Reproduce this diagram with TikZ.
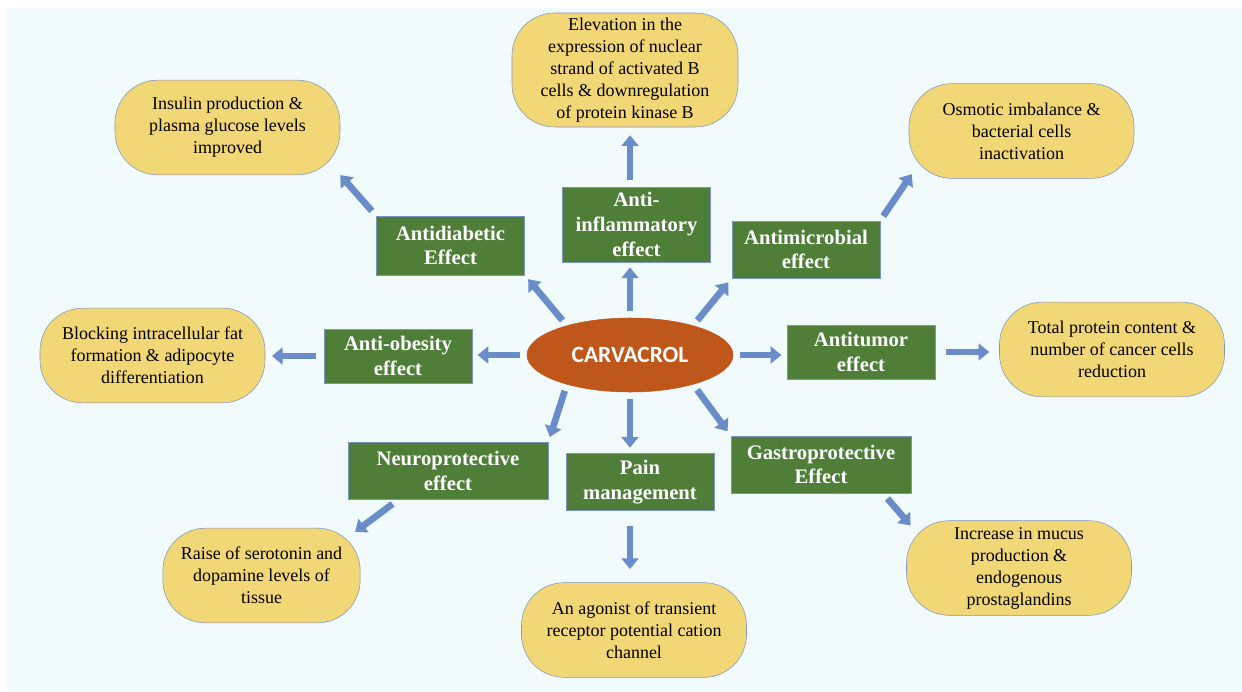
\documentclass[tikz,border=0pt]{standalone}
\usepackage{fontspec}
\setmainfont{Liberation Serif}
\newfontfamily\carlito{Carlito}
\usetikzlibrary{arrows.meta,shapes.geometric}
\definecolor{bgcyan}{HTML}{F1FBFC}
\definecolor{effgreen}{HTML}{4E7E38}
\definecolor{resyellow}{HTML}{F2D776}
\definecolor{edgeblue}{HTML}{7F93C0}
\definecolor{arrowblue}{HTML}{6A8CC8}
\definecolor{carvorange}{HTML}{C0571A}

\tikzset{
  effect/.style={rectangle,draw=edgeblue,fill=effgreen,text=white,align=center,
    font=\fontsize{15.5}{18.5}\selectfont\bfseries,inner sep=2pt,
    minimum width=111pt,minimum height=43pt},
  result/.style={rectangle,rounded corners=32pt,draw=edgeblue,fill=resyellow,align=center,
    font=\fontsize{13.5}{16.5}\selectfont,inner sep=2pt,
    minimum width=168.75pt,minimum height=71pt},
  core/.style={ellipse,draw=carvorange,fill=carvorange,text=white,
    font=\carlito\fontsize{17.5}{20}\selectfont\bfseries,
    minimum width=154.5pt,minimum height=55.5pt},
  arrow/.style={-{Triangle[width=12.5pt,length=8pt]},line width=5pt,draw=arrowblue,
    shorten >=4pt,shorten <=5pt}}

\begin{document}
\begin{tikzpicture}[x=0.75pt,y=-0.75pt]
    \useasboundingbox (0,0) rectangle (1242,692);
    \fill[white] (0,0) rectangle (1242,692);
    \fill[bgcyan] (7,8) rectangle (1242,692);

    \node[core] (carv) at (630,355) {CARVACROL};

    \node[effect,minimum height=56pt] (antiinfl) at (636.5,224.5) {Anti-\\inflammatory\\effect};
    \node[effect,minimum height=44pt] (antidiab) at (450.5,245.5) {Antidiabetic\\Effect};
    \node[effect] (antimicro) at (806,249.5) {Antimicrobial\\effect};
    \node[effect,minimum height=40.5pt] (antiobes) at (398,356) {Anti-obesity\\effect};
    \node[effect,minimum height=40.5pt] (antitumor) at (861,352) {Antitumor\\effect};
    \node[effect,minimum width=150pt] (neuro) at (448,471) {Neuroprotective\\effect};
    \node[effect] (pain) at (640,482) {Pain\\management};
    \node[effect,minimum width=135pt] (gastro) at (821,464.5) {Gastroprotective\\Effect};

    \node[result,minimum height=85.5pt,minimum width=169.5pt] (elev) at (625,70)
      {Elevation in the\\expression of nuclear\\strand of activated B\\cells \& downregulation\\of protein kinase B};
    \node[result] (insulin) at (227.5,127.5) {Insulin production \&\\plasma glucose levels\\improved};
    \node[result] (osmotic) at (1021.5,131) {Osmotic imbalance \&\\bacterial cells\\inactivation};
    \node[result] (blocking) at (152.5,355.5) {Blocking intracellular fat\\formation \& adipocyte\\differentiation};
    \node[result] (total) at (1112,349.5) {Total protein content \&\\number of cancer cells\\reduction};
    \node[result,minimum width=148pt] (raise) at (261.5,575.5) {Raise of serotonin and\\dopamine levels of\\tissue};
    \node[result] (agonist) at (634,630) {An agonist of transient\\receptor potential cation\\channel};
    \node[result] (increase) at (1019,568) {Increase in mucus\\production \&\\endogenous\\prostaglandins};

    \draw[arrow] (carv.north) -- (carv.north |- antiinfl.south);
    \draw[arrow] (carv.155) -- (antidiab.south east);
    \draw[arrow] (carv.25) -- (antimicro.south west);
    \draw[arrow] (carv.west) -- (carv.west -| antiobes.east);
    \draw[arrow] (carv.east) -- (carv.east -| antitumor.west);
    \draw[arrow] (carv.205) -- (neuro.north east);
    \draw[arrow] (carv.south) -- (carv.south |- pain.north);
    \draw[arrow] (carv.335) -- (gastro.north west);

    \draw[arrow,shorten <=5pt,shorten >=6pt] (antiinfl.north -| carv.north) -- (elev.south -| carv.north);
    \draw[arrow,shorten >=0pt] (antidiab.north west) -- (insulin.south east);
    \draw[arrow,shorten <=4pt,shorten >=-4pt] (antimicro.north east) -- (osmotic.south west);
    \draw[arrow,shorten <=6pt,shorten >=5pt] (antiobes.west) -- (antiobes.west -| blocking.east);
    \draw[arrow,shorten <=8pt,shorten >=7.5pt] (antitumor.east) -- (antitumor.east -| total.west);
    \draw[arrow,shorten >=-5pt] (neuro.-150) -- (raise.north east);
    \draw[arrow,shorten <=11pt,shorten >=10pt] (pain.south -| carv.south) -- (agonist.north -| carv.south);
    \draw[arrow,shorten >=-5pt] (gastro.-25) -- (increase.north west);
\end{tikzpicture}
\end{document}
